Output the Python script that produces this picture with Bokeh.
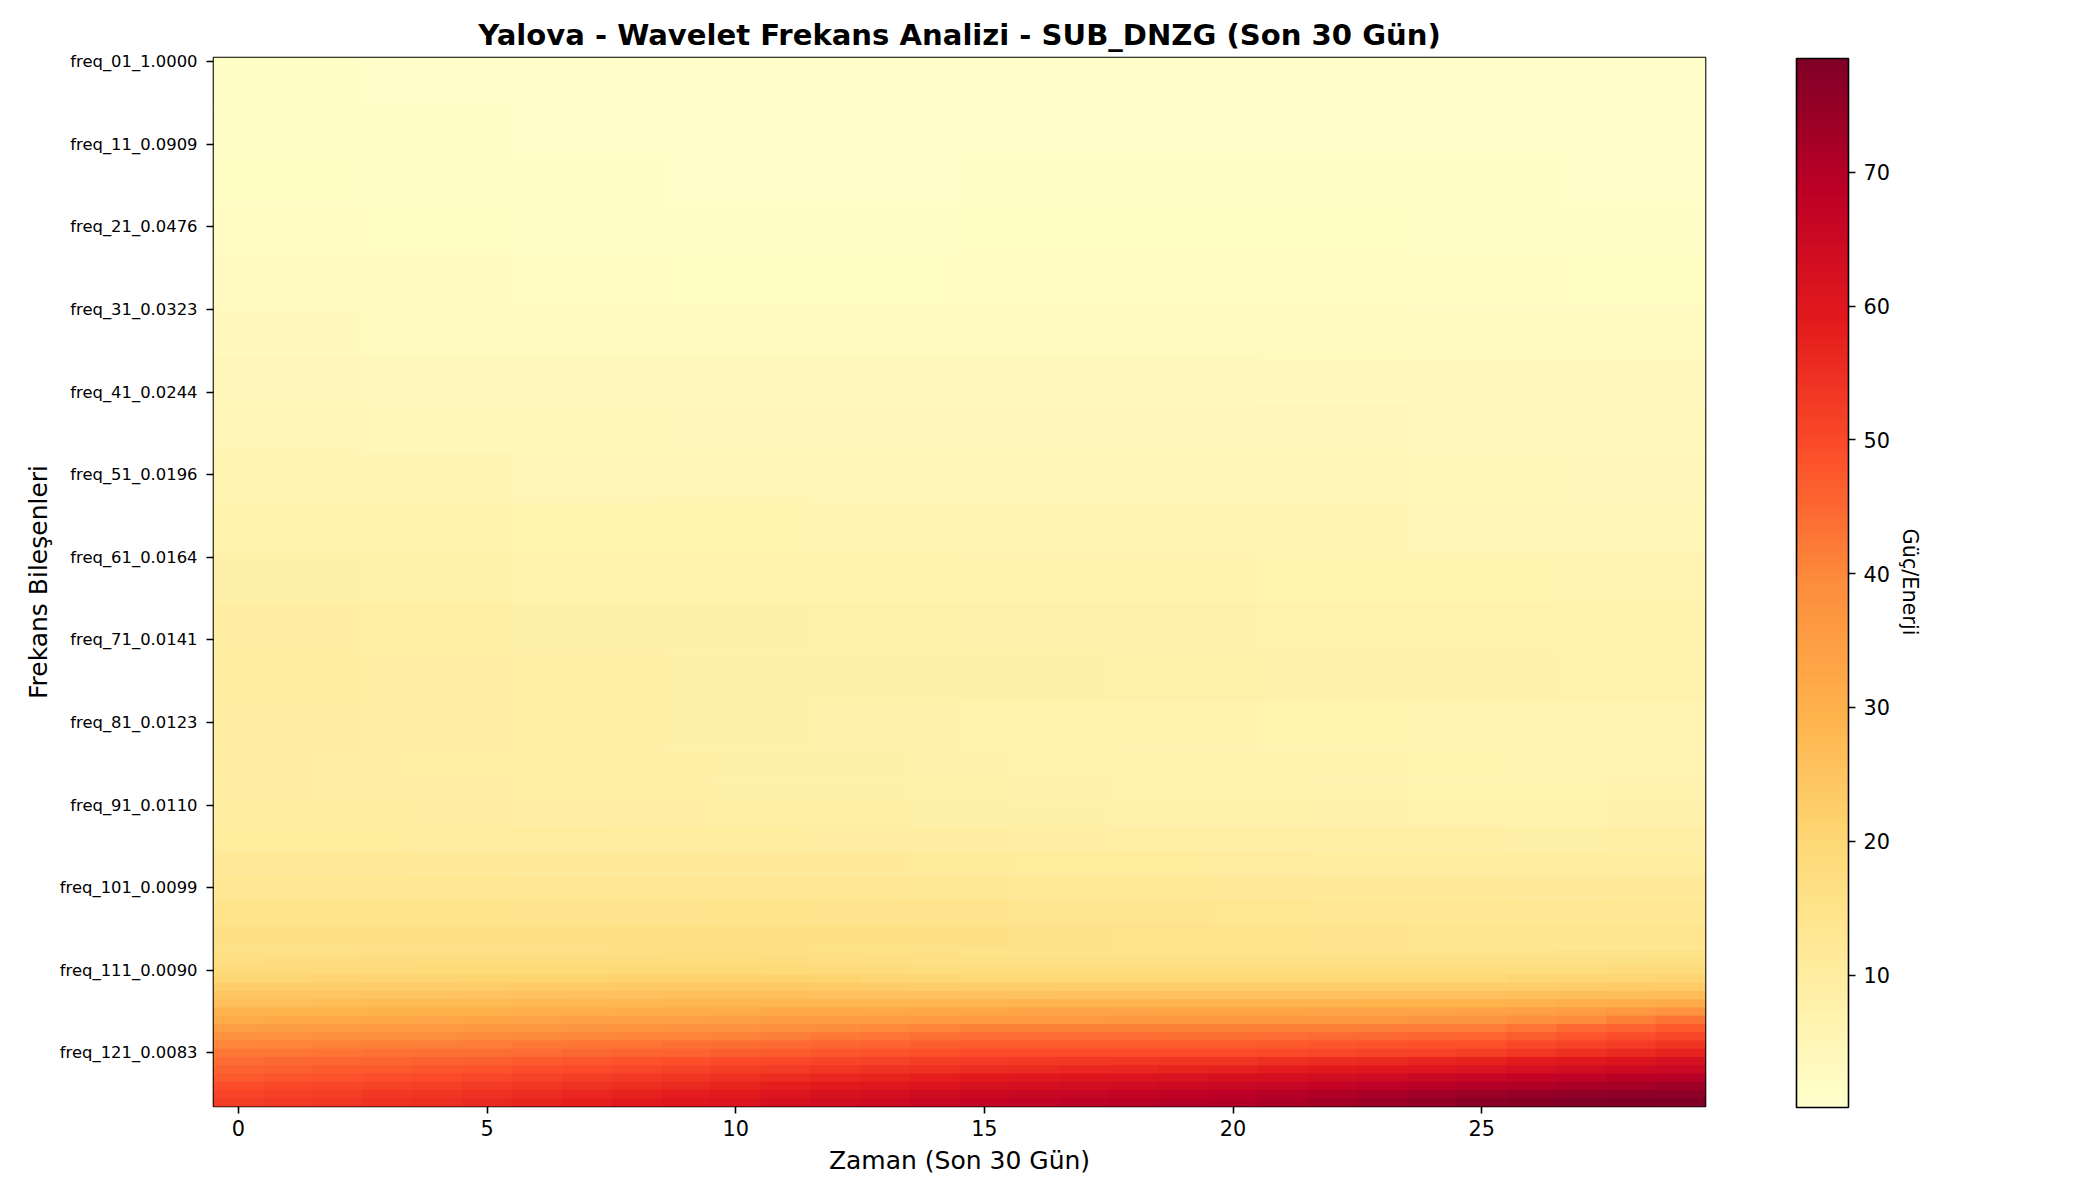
import numpy as np
from bokeh.embed import file_html
from bokeh.resources import INLINE
from bokeh.models import ColorBar, FixedTicker, LinearAxis, LinearColorMapper, Range1d
from bokeh.palettes import YlOrRd9
from bokeh.plotting import figure

# values. the name gives the first frequency row of the band.
# upper part changes very slowly so 6 rows / 10 columns per band is enough
top_000 = [1.4, 1.1, 0.8, 0.6, 0.6, 0.8, 0.9, 0.9, 0.8, 0.7]
top_006 = [1.7, 1.4, 1.1, 0.9, 1.0, 1.2, 1.2, 1.2, 1.1, 1.0]
top_012 = [2.0, 1.7, 1.4, 1.2, 1.2, 1.4, 1.5, 1.5, 1.4, 1.3]
top_018 = [2.4, 2.1, 1.9, 1.8, 1.8, 2.0, 2.0, 2.0, 1.9, 1.8]
top_024 = [2.8, 2.6, 2.3, 2.2, 2.2, 2.3, 2.4, 2.4, 2.3, 2.2]
top_030 = [3.4, 3.1, 3.0, 2.9, 2.9, 3.0, 3.0, 2.9, 2.8, 2.7]
top_036 = [4.4, 4.0, 3.8, 3.8, 3.8, 3.8, 3.8, 3.7, 3.5, 3.3]
top_042 = [5.3, 4.9, 4.7, 4.6, 4.5, 4.5, 4.5, 4.4, 4.2, 4.0]
top_048 = [6.1, 5.8, 5.6, 5.3, 5.3, 5.2, 5.1, 5.0, 4.8, 4.6]
top_054 = [7.3, 6.8, 6.5, 6.3, 6.2, 6.0, 5.9, 5.8, 5.6, 5.4]
top_060 = [8.5, 7.9, 7.4, 7.1, 6.9, 6.7, 6.6, 6.5, 6.3, 6.1]
top_066 = [9.6, 9.0, 8.5, 8.1, 7.9, 7.7, 7.6, 7.4, 7.2, 7.1]
top_072 = [10.1, 9.5, 9.0, 8.6, 8.2, 8.1, 7.9, 7.7, 7.5, 7.3]
top_078 = [9.8, 9.3, 8.7, 8.2, 7.5, 7.1, 6.8, 6.5, 6.2, 6.0]

# middle part, 3 rows / 15 columns per band
mid_084 = [9.6, 9.4, 9.2, 9.0, 8.8, 8.5, 8.1, 7.7, 7.4, 7.1, 6.9, 6.6, 6.3, 6.0, 6.2]
mid_087 = [9.6, 9.5, 9.3, 9.1, 8.9, 8.6, 8.2, 7.9, 7.6, 7.3, 7.1, 6.8, 6.5, 6.3, 6.6]
mid_090 = [10.0, 9.9, 9.7, 9.5, 9.3, 9.1, 8.8, 8.5, 8.3, 8.0, 7.8, 7.6, 7.4, 7.2, 7.5]
mid_093 = [10.8, 10.7, 10.5, 10.3, 10.2, 10.0, 9.8, 9.6, 9.4, 9.2, 9.0, 8.8, 8.7, 8.6, 8.8]
mid_096 = [12.0, 11.9, 11.7, 11.6, 11.5, 11.3, 11.2, 11.0, 10.8, 10.6, 10.4, 10.2, 10.1, 10.0, 10.1]
mid_099 = [13.2, 13.1, 13.0, 12.9, 12.8, 12.8, 12.7, 12.5, 12.3, 12.1, 11.8, 11.6, 11.5, 11.4, 11.5]
mid_102 = [14.6, 14.5, 14.5, 14.4, 14.4, 14.5, 14.4, 14.2, 14.0, 13.7, 13.4, 13.1, 12.9, 12.8, 12.9]
mid_105 = [16.0, 16.0, 16.0, 16.0, 16.1, 16.2, 16.1, 15.8, 15.4, 14.9, 14.5, 14.2, 14.0, 14.0, 14.1]

# bottom part where the colours move fast, one row / 30 days per band
low_108 = [16.5, 16.6, 16.6, 16.7, 16.7, 16.8, 16.8, 16.9, 16.9, 17.0, 17.0, 16.8, 16.5, 16.2, 15.8,
           15.5, 15.4, 15.3, 15.2, 15.1, 15.0, 15.0, 15.0, 15.0, 15.0, 15.0, 15.1, 15.2, 15.4, 15.5]
low_109 = [17.5, 17.6, 17.6, 17.7, 17.7, 17.8, 17.8, 17.9, 17.9, 18.0, 18.0, 17.8, 17.5, 17.1, 16.8,
           16.5, 16.5, 16.4, 16.4, 16.3, 16.3, 16.3, 16.2, 16.2, 16.2, 16.2, 16.3, 16.4, 16.6, 16.7]
low_110 = [18.8, 18.9, 19.0, 19.0, 19.1, 19.2, 19.3, 19.3, 19.4, 19.5, 19.5, 19.2, 18.9, 18.5, 18.1,
           17.8, 17.8, 17.8, 17.8, 17.8, 17.8, 17.8, 17.8, 17.8, 17.8, 17.8, 17.9, 18.0, 18.2, 18.3]
low_111 = [20.5, 20.6, 20.7, 20.8, 20.9, 21.0, 21.1, 21.2, 21.4, 21.5, 21.5, 21.3, 21.0, 20.6, 20.3,
           20.0, 20.0, 20.0, 20.0, 20.0, 20.0, 20.0, 20.0, 20.0, 20.0, 20.0, 20.1, 20.3, 20.6, 20.8]
low_112 = [22.5, 22.6, 22.7, 22.8, 22.9, 23.0, 23.1, 23.3, 23.5, 23.7, 23.7, 23.5, 23.2, 22.9, 22.7,
           22.5, 22.5, 22.5, 22.5, 22.5, 22.5, 22.5, 22.5, 22.5, 22.5, 22.5, 22.6, 22.8, 23.1, 23.3]
low_113 = [24.5, 24.7, 24.8, 25.0, 25.1, 25.3, 25.4, 25.6, 25.8, 26.0, 26.0, 25.9, 25.8, 25.7, 25.6,
           25.5, 25.5, 25.6, 25.6, 25.7, 25.7, 25.7, 25.7, 25.7, 25.7, 25.7, 25.9, 26.2, 26.6, 27.0]
low_114 = [26.5, 26.7, 26.9, 27.1, 27.3, 27.5, 27.7, 27.9, 28.2, 28.5, 28.5, 28.5, 28.5, 28.5, 28.5,
           28.5, 28.6, 28.7, 28.8, 28.9, 29.0, 29.1, 29.1, 29.2, 29.2, 29.3, 29.7, 30.2, 30.8, 31.5]
low_115 = [29.0, 29.2, 29.4, 29.6, 29.8, 30.0, 30.3, 30.6, 30.9, 31.2, 31.5, 31.7, 31.9, 32.1, 32.3,
           32.5, 32.6, 32.7, 32.8, 32.9, 33.0, 33.1, 33.2, 33.3, 33.4, 33.5, 34.3, 35.2, 36.3, 37.5]
low_116 = [31.5, 31.8, 32.1, 32.4, 32.7, 33.0, 33.3, 33.6, 33.9, 34.2, 34.5, 34.8, 35.1, 35.4, 35.7,
           36.0, 36.1, 36.2, 36.3, 36.4, 36.5, 36.6, 36.7, 36.8, 36.9, 37.0, 38.2, 39.6, 41.2, 43.0]
low_117 = [35.0, 35.3, 35.6, 35.9, 36.2, 36.5, 36.8, 37.1, 37.4, 37.7, 38.0, 38.6, 39.2, 39.8, 40.4,
           41.0, 41.0, 41.0, 41.0, 41.0, 41.0, 41.2, 41.4, 41.6, 41.8, 42.0, 43.2, 44.6, 46.0, 47.5]
low_118 = [38.0, 38.3, 38.6, 38.9, 39.2, 39.5, 39.8, 40.1, 40.4, 40.7, 41.0, 41.7, 42.4, 43.1, 43.8,
           44.5, 44.4, 44.3, 44.2, 44.1, 44.0, 44.3, 44.6, 44.9, 45.2, 45.5, 46.7, 47.9, 49.2, 50.5]
low_119 = [40.5, 40.8, 41.1, 41.4, 41.7, 42.0, 42.4, 42.8, 43.2, 43.6, 44.0, 44.6, 45.2, 45.8, 46.4,
           47.0, 47.0, 47.0, 47.0, 47.0, 47.0, 47.4, 47.8, 48.2, 48.6, 49.0, 50.2, 51.4, 52.7, 54.0]
low_120 = [42.5, 42.8, 43.1, 43.4, 43.7, 44.0, 44.5, 45.0, 45.5, 46.0, 46.5, 47.1, 47.7, 48.3, 48.9,
           49.5, 49.5, 49.5, 49.5, 49.5, 49.5, 50.0, 50.5, 51.0, 51.5, 52.0, 53.3, 54.7, 56.1, 57.5]
low_121 = [44.5, 44.9, 45.3, 45.7, 46.1, 46.5, 47.1, 47.7, 48.3, 48.9, 49.5, 50.1, 50.7, 51.3, 51.9,
           52.5, 52.8, 53.1, 53.4, 53.7, 54.0, 54.7, 55.4, 56.1, 56.8, 57.5, 58.6, 59.7, 60.9, 62.0]
low_122 = [46.0, 46.5, 47.0, 47.5, 48.0, 48.5, 49.2, 49.9, 50.6, 51.3, 52.0, 52.7, 53.4, 54.1, 54.8,
           55.5, 55.9, 56.3, 56.7, 57.1, 57.5, 58.3, 59.1, 59.9, 60.7, 61.5, 62.5, 63.5, 64.5, 65.5]
low_123 = [47.5, 48.1, 48.7, 49.3, 49.9, 50.5, 51.3, 52.1, 52.9, 53.7, 54.5, 55.4, 56.3, 57.2, 58.1,
           59.0, 59.6, 60.2, 60.8, 61.4, 62.0, 62.9, 63.8, 64.7, 65.6, 66.5, 67.3, 68.0, 68.8, 69.5]
low_124 = [49.5, 50.1, 50.7, 51.3, 51.9, 52.5, 53.4, 54.3, 55.2, 56.1, 57.0, 58.0, 59.0, 60.0, 61.0,
           62.0, 62.7, 63.4, 64.1, 64.8, 65.5, 66.4, 67.3, 68.2, 69.1, 70.0, 70.8, 71.5, 72.3, 73.0]
low_125 = [51.0, 51.7, 52.4, 53.1, 53.8, 54.5, 55.5, 56.5, 57.5, 58.5, 59.5, 60.6, 61.7, 62.8, 63.9,
           65.0, 65.7, 66.4, 67.1, 67.8, 68.5, 69.6, 70.7, 71.8, 72.9, 74.0, 75.0, 75.6, 75.9, 76.0]
low_126 = [52.0, 52.8, 53.6, 54.4, 55.2, 56.0, 57.0, 58.0, 59.0, 60.0, 61.0, 62.2, 63.4, 64.6, 65.8,
           67.0, 67.6, 68.2, 68.8, 69.4, 70.0, 71.3, 72.6, 73.9, 75.2, 76.5, 77.5, 78.4, 78.5, 78.0]

top_bands = [top_000, top_006, top_012, top_018, top_024, top_030, top_036,
             top_042, top_048, top_054, top_060, top_066, top_072, top_078]
mid_bands = [mid_084, mid_087, mid_090, mid_093, mid_096, mid_099, mid_102, mid_105]
low_bands = [low_108, low_109, low_110, low_111, low_112, low_113, low_114, low_115, low_116, low_117,
             low_118, low_119, low_120, low_121, low_122, low_123, low_124, low_125, low_126]

freq_ticks = [0, 10, 20, 30, 40, 50, 60, 70, 80, 90, 100, 110, 120]
freq_labels = ["freq_01_1.0000", "freq_11_0.0909", "freq_21_0.0476", "freq_31_0.0323",
               "freq_41_0.0244", "freq_51_0.0196", "freq_61_0.0164", "freq_71_0.0141",
               "freq_81_0.0123", "freq_91_0.0110", "freq_101_0.0099", "freq_111_0.0090",
               "freq_121_0.0083"]
time_ticks = [0, 5, 10, 15, 20, 25]
bar_ticks = [10, 20, 30, 40, 50, 60, 70]
value_low = 0.1
value_high = 78.5

FONT = "DejaVu Sans"


# bokeh only ships the 9 step YlOrRd, spread it out to 256 colours like the colorbar has
def ylorrd_256():
    stops = [tuple(int(c[i:i + 2], 16) for i in (1, 3, 5)) for c in YlOrRd9[::-1]]
    pos = np.linspace(0, 1, len(stops))
    out = []
    for t in np.linspace(0, 1, 256):
        rgb = [int(round(np.interp(t, pos, [s[i] for s in stops]))) for i in range(3)]
        out.append("#%02x%02x%02x" % tuple(rgb))
    return out


mapper = LinearColorMapper(palette=ylorrd_256(), low=value_low, high=value_high)

p = figure(frame_width=1492, frame_height=1049,
           x_range=Range1d(-0.5, 29.5), y_range=Range1d(126.5, -0.5),
           output_backend="svg", toolbar_location=None,
           min_border_left=213, min_border_top=57, min_border_right=379, min_border_bottom=85,
           x_axis_label="Zaman (Son 30 Gün)", y_axis_label="Frekans Bileşenleri",
           title="Yalova - Wavelet Frekans Analizi - SUB_DNZG (Son 30 Gün)")

# one stretched image per band, they stack from the top row down
images, starts, heights = [], [], []
row = 0
for group, height in [(top_bands, 6), (mid_bands, 3), (low_bands, 1)]:
    for band in group:
        images.append(np.array([band]))
        starts.append(row - 0.5)
        heights.append(height)
        row += height

p.image(image=images, x=[-0.5] * len(images), y=starts, dw=[30] * len(images), dh=heights,
        color_mapper=mapper, dilate=True)

p.title.align = "center"
p.title.text_font = FONT
p.title.text_font_size = "29.1px"
p.title.text_font_style = "bold"
p.title.text_color = "black"
p.title.standoff = 11

p.xgrid.visible = False
p.ygrid.visible = False
p.outline_line_color = "black"
p.outline_line_width = 1.6

p.xaxis.ticker = FixedTicker(ticks=time_ticks)
p.yaxis.ticker = FixedTicker(ticks=freq_ticks)
p.yaxis.major_label_overrides = dict(zip(freq_ticks, freq_labels))

for ax in [p.xaxis[0], p.yaxis[0]]:
    ax.axis_line_color = None
    ax.major_tick_in = 0
    ax.major_tick_out = 7
    ax.minor_tick_line_color = None
    ax.major_tick_line_color = "black"
    ax.major_tick_line_width = 1.6
    ax.major_label_text_font = FONT
    ax.major_label_text_color = "black"
    ax.axis_label_text_font = FONT
    ax.axis_label_text_font_style = "normal"
    ax.axis_label_text_font_size = "25px"
    ax.axis_label_text_color = "black"

p.xaxis.major_label_text_font_size = "20.8px"
p.yaxis.major_label_text_font_size = "16.4px"
p.yaxis.major_label_standoff = 9
p.yaxis.axis_label_standoff = 4
p.xaxis.major_label_standoff = 6
p.xaxis.axis_label_standoff = 7

bar = ColorBar(color_mapper=mapper, ticker=FixedTicker(ticks=bar_ticks),
               width=52, height=1049, location=(81, -11), margin=0, padding=10,
               major_tick_in=0, major_tick_out=7,
               major_tick_line_color="black", major_tick_line_width=1.6,
               bar_line_color="black", bar_line_width=1.6,
               major_label_text_font=FONT, major_label_text_font_size="20.8px",
               major_label_text_color="black", label_standoff=8,
               background_fill_color=None, border_line_color=None)
p.add_layout(bar, "right")

# colorbar title. a right axis label reads downwards, the reference reads upwards,
# so it is the one tick label of an extra axis turned with major_label_orientation
title_row = 63
bar_title = LinearAxis(ticker=FixedTicker(ticks=[title_row]),
                       major_label_overrides={title_row: "Güç/Enerji"},
                       major_label_orientation="vertical", major_label_standoff=-5,
                       axis_line_color=None, major_tick_line_color=None, minor_tick_line_color=None,
                       major_tick_in=0, major_tick_out=0,
                       major_label_text_font=FONT, major_label_text_font_size="20.8px",
                       major_label_text_color="black")
p.add_layout(bar_title, "right")

open("out.html", "w").write(file_html(p, INLINE))
